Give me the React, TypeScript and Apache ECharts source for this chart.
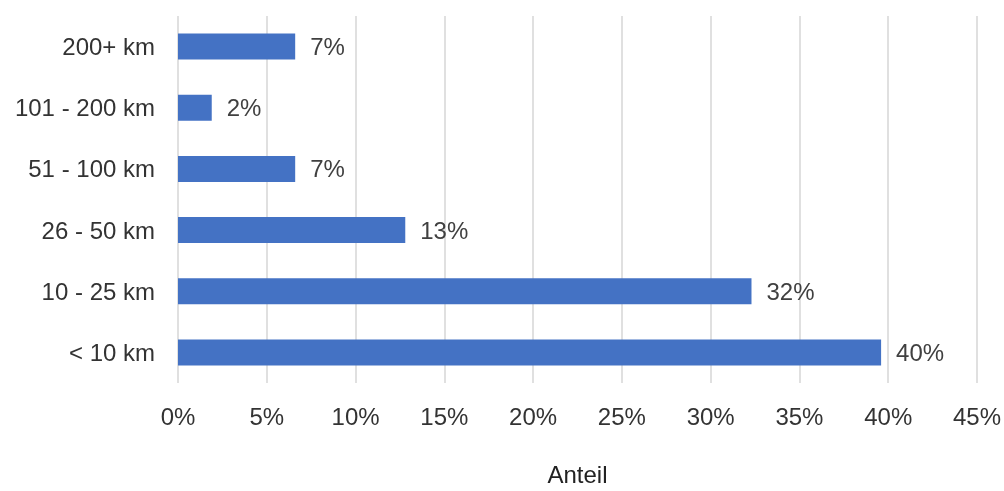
import React, { useEffect, useRef } from "react";
import * as echarts from "echarts";

const categories = ["< 10 km", "10 - 25 km", "26 - 50 km", "51 - 100 km", "101 - 200 km", "200+ km"];
const shares = [39.6, 32.3, 12.8, 6.6, 1.9, 6.6];
const xTicks = { min: 0, max: 45, interval: 5 };

export default function App() {
  const ref = useRef<HTMLDivElement>(null);
  useEffect(() => {
    const chart = echarts.init(ref.current!, null, { renderer: "svg" });
    const font = "'Liberation Sans', Arial, sans-serif";
    chart.setOption({
      animation: false,
      grid: { left: 178, right: 27, top: 16, bottom: 103.5 },
      xAxis: {
        type: "value",
        min: xTicks.min,
        max: xTicks.max,
        interval: xTicks.interval,
        name: "Anteil",
        nameLocation: "middle",
        nameGap: 79,
        nameTextStyle: { color: "#222", fontSize: 24, fontFamily: font },
        axisLine: { show: false },
        axisTick: { show: false },
        axisLabel: { color: "#333", fontSize: 24, fontFamily: font, margin: 21, formatter: (v: number) => v + "%" },
        splitLine: { show: true, lineStyle: { color: "#e0e0e0", width: 2 } },
      },
      yAxis: {
        type: "category",
        data: categories,
        axisLine: { show: false },
        axisTick: { show: false },
        axisLabel: { color: "#333", fontSize: 24, fontFamily: font, margin: 23 },
        splitLine: { show: false },
      },
      series: [
        {
          type: "bar",
          data: shares,
          barWidth: 26,
          itemStyle: { color: "#4472C4" },
          label: {
            show: true,
            position: "right",
            distance: 15,
            color: "#404040",
            fontSize: 24,
            fontFamily: font,
            formatter: (p: any) => Math.round(p.value) + "%",
          },
        },
      ],
    });
    return () => chart.dispose();
  }, []);
  return (
    <div
      ref={ref}
      style={{ position: "fixed", left: 0, top: 0, width: 1004, height: 491 }}
    />
  );
}
